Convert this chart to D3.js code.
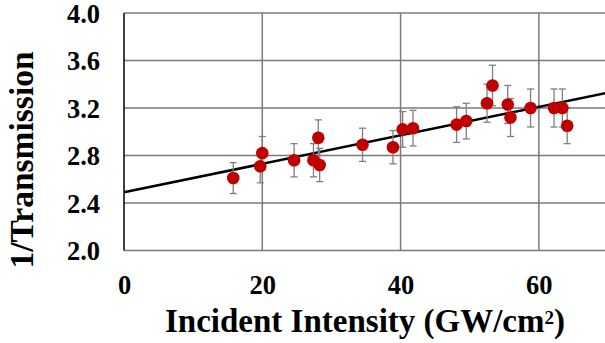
<!DOCTYPE html>
<html>
<head>
<meta charset="utf-8">
<script src="https://cdn.jsdelivr.net/npm/d3@7"></script>
<style>
  body { margin: 0; background: #fff; }
  text { font-family: "Liberation Serif", "Times New Roman", serif; font-weight: bold; fill: #000; }
</style>
</head>
<body>
<svg id="chart" width="605" height="343"></svg>
<script>
// measured points
var intensity = [15.8, 19.7, 20.0, 24.6, 27.4, 28.1, 28.3, 34.5, 38.9, 40.3, 41.8, 48.1, 49.5, 52.5, 53.3, 55.5, 55.9, 58.8, 62.2, 63.4, 64.1];
var invTrans  = [2.61, 2.71, 2.82, 2.76, 2.76, 2.95, 2.72, 2.89, 2.87, 3.02, 3.03, 3.06, 3.09, 3.24, 3.39, 3.23, 3.12, 3.20, 3.20, 3.20, 3.05];
var errBar    = [0.13, 0.14, 0.14, 0.14, 0.14, 0.15, 0.14, 0.14, 0.14, 0.15, 0.15, 0.15, 0.15, 0.16, 0.17, 0.16, 0.16, 0.16, 0.16, 0.16, 0.15];
// linear fit
var fitIntercept = 2.49;
var fitSlope = 0.012;
var xTicks = [0, 20, 40, 60];
var yTicks = [2.0, 2.4, 2.8, 3.2, 3.6, 4.0];

var svg = d3.select('#chart');
var margin = { left: 124, top: 13, bottom: 93 };
var plotW = 484, plotH = 343 - margin.top - margin.bottom + 0.5;

var x = d3.scaleLinear().domain([0, 70]).range([margin.left, margin.left + plotW]);
var y = d3.scaleLinear().domain([2.0, 4.0]).range([margin.top + plotH, margin.top]);

var grid = '#7a7a7a';

// horizontal grid
svg.append('g').selectAll('line')
    .data(yTicks)
    .enter().append('line')
    .attr('x1', x(0)).attr('x2', x(70))
    .attr('y1', function (d) { return y(d); })
    .attr('y2', function (d) { return y(d); })
    .attr('stroke', grid).attr('stroke-width', 1.5);

// vertical grid
svg.append('g').selectAll('line')
    .data(xTicks.slice(1))
    .enter().append('line')
    .attr('x1', function (d) { return x(d); })
    .attr('x2', function (d) { return x(d); })
    .attr('y1', y(2.0)).attr('y2', y(4.0))
    .attr('stroke', grid).attr('stroke-width', 1.5);

// left axis line
svg.append('line')
    .attr('x1', x(0)).attr('x2', x(0))
    .attr('y1', y(2.0)).attr('y2', y(4.0))
    .attr('stroke', '#000').attr('stroke-width', 1.5);

// axes with d3 for labels
var yAxis = svg.append('g')
    .attr('transform', 'translate(' + x(0) + ',0)')
    .call(d3.axisLeft(y).tickValues(yTicks).tickFormat(d3.format('.1f')).tickSize(0).tickPadding(24));
yAxis.select('.domain').remove();
yAxis.selectAll('text')
    .style('font-size', '26.5px')
    .style('font-family', '"Liberation Serif", serif')
    .style('font-weight', 'bold')
    .attr('dy', '0.35em');

var xAxis = svg.append('g')
    .attr('transform', 'translate(0,' + y(2.0) + ')')
    .call(d3.axisBottom(x).tickValues(xTicks).tickFormat(d3.format('d')).tickSize(0).tickPadding(25));
xAxis.select('.domain').remove();
xAxis.selectAll('text')
    .style('font-size', '26.5px')
    .style('font-family', '"Liberation Serif", serif')
    .style('font-weight', 'bold');

// fit line
svg.append('line')
    .attr('x1', x(0)).attr('y1', y(fitIntercept))
    .attr('x2', x(70)).attr('y2', y(fitIntercept + fitSlope * 70))
    .attr('stroke', '#000').attr('stroke-width', 2.5);

var pts = intensity.map(function (v, i) { return { x: v, y: invTrans[i], e: errBar[i] }; });

// error bars
var eb = svg.append('g').selectAll('g').data(pts).enter().append('g')
    .attr('stroke', '#7f7f7f').attr('stroke-width', 1.3);
eb.append('line')
    .attr('x1', function (d) { return x(d.x); }).attr('x2', function (d) { return x(d.x); })
    .attr('y1', function (d) { return y(d.y - d.e); }).attr('y2', function (d) { return y(d.y + d.e); });
eb.append('line')
    .attr('x1', function (d) { return x(d.x) - 3.5; }).attr('x2', function (d) { return x(d.x) + 3.5; })
    .attr('y1', function (d) { return y(d.y + d.e); }).attr('y2', function (d) { return y(d.y + d.e); });
eb.append('line')
    .attr('x1', function (d) { return x(d.x) - 3.5; }).attr('x2', function (d) { return x(d.x) + 3.5; })
    .attr('y1', function (d) { return y(d.y - d.e); }).attr('y2', function (d) { return y(d.y - d.e); });

// points
svg.append('g').selectAll('circle').data(pts).enter().append('circle')
    .attr('cx', function (d) { return x(d.x); })
    .attr('cy', function (d) { return y(d.y); })
    .attr('r', 6.3)
    .attr('fill', '#c00000');

// titles
svg.append('text')
    .attr('x', 365).attr('y', 332)
    .attr('text-anchor', 'middle')
    .style('font-size', '33px')
    .html('Incident Intensity (GW/cm<tspan baseline-shift="40%" font-size="19px">2</tspan>)');

svg.append('text')
    .attr('transform', 'translate(33,160) rotate(-90)')
    .attr('text-anchor', 'middle')
    .style('font-size', '33.5px')
    .text('1/Transmission');
</script>
</body>
</html>
